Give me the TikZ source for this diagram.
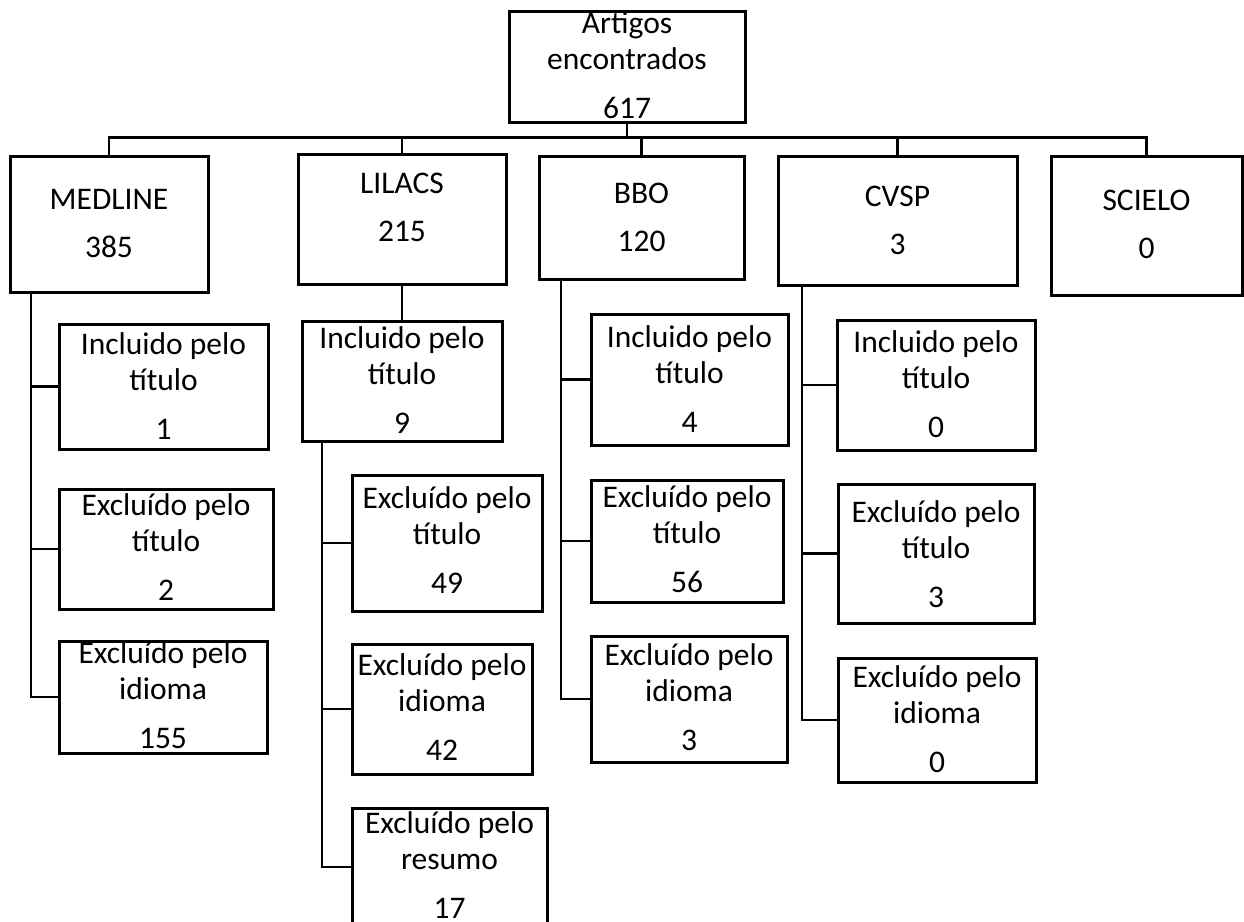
\documentclass[tikz,border=0pt]{standalone}
\usepackage{fontspec}
\setmainfont{Carlito}
\usetikzlibrary{calc}
\tikzset{
  box/.style={draw=black, line width=3pt, fill=white, inner sep=0pt, outer sep=0pt},
  txt/.style={inner sep=0pt, outer sep=0pt, font=\fontsize{31.5}{36}\selectfont, anchor=base},
  conn/.style={draw=black, line width=2.2pt},
  busline/.style={draw=black, line width=3.6pt}
}
% three-line box: name, left, top, right, bottom, first-baseline offset, line1, line2, number
\newcommand{\threebox}[9]{%
  \node[box, minimum width={(#4-#2)*1pt}, minimum height={(#5-#3)*1pt}] (#1) at ({(#2+#4)/2},{(#3+#5)/2}) {};
  \node[txt] (#1-a) at ({(#2+#4)/2},{#3+#6}) {#7};
  \node[txt] (#1-b) at ({(#2+#4)/2},{#3+#6+36}) {#8};
  \node[txt] (#1-c) at ({(#2+#4)/2},{#3+#6+85}) {#9};
}
% two-line box: name, left, top, right, bottom, first-baseline offset, line1, number
\newcommand{\twobox}[8]{%
  \node[box, minimum width={(#4-#2)*1pt}, minimum height={(#5-#3)*1pt}] (#1) at ({(#2+#4)/2},{(#3+#5)/2}) {};
  \node[txt] (#1-a) at ({(#2+#4)/2},{#3+#6}) {#7};
  \node[txt] (#1-c) at ({(#2+#4)/2},{#3+#6+48}) {#8};
}
\begin{document}
\begin{tikzpicture}[x=1pt, y=-1pt]
\useasboundingbox (0,0) rectangle (1244,921);
\fill[white] (0,0) rectangle (1244,921);

\coordinate (bus) at (627,137.5);
\coordinate (busL) at (387,137.5);

\threebox{top}{509}{11}{745}{122}{22}{Artigos}{encontrados}{617}
\twobox{medline}{10}{156}{208}{292}{53}{MEDLINE}{385}
\twobox{lilacs}{298}{154}{506}{284}{39}{LILACS}{215}
\twobox{bbo}{539}{156}{744}{279}{47}{BBO}{120}
\twobox{cvsp}{778}{156}{1017}{285}{50}{CVSP}{3}
\twobox{scielo}{1051}{156}{1242}{295}{54}{SCIELO}{0}

\threebox{m1}{59}{324}{268}{449}{30}{Incluido pelo}{título}{1}
\threebox{m2}{59}{489}{273}{609}{26}{Excluído pelo}{título}{2}
\threebox{m3}{59}{641}{267}{753}{22}{Excluído pelo}{idioma}{155}

\threebox{l1}{302}{321}{502}{441}{27}{Incluido pelo}{título}{9}
\threebox{l2}{352}{475}{542}{611}{33}{Excluído pelo}{título}{49}
\threebox{l3}{352}{644}{532}{774}{31}{Excluído pelo}{idioma}{42}
\threebox{l4}{352}{808}{547}{926}{25}{Excluído pelo}{resumo}{17}

\threebox{b1}{591}{314}{788}{445}{33}{Incluido pelo}{título}{4}
\threebox{b2}{591}{480}{783}{602}{27}{Excluído pelo}{título}{56}
\threebox{b3}{591}{636}{787}{762}{29}{Excluído pelo}{idioma}{3}

\threebox{c1}{837}{320}{1035}{450}{32}{Incluido pelo}{título}{0}
\threebox{c2}{838}{484}{1034}{623}{38}{Excluído pelo}{título}{3}
\threebox{c3}{838}{658}{1036}{782}{29}{Excluído pelo}{idioma}{0}

% top level bus
\draw[conn] (top.south) -- (bus);
\draw[conn] (bus) -| (medline.north);
\draw[conn] (bus) -| (lilacs.north);
\draw[conn] (bus) -| (bbo.north);
\draw[conn] (bus) -| (cvsp.north);
\draw[conn] (bus) -| (scielo.north);
\draw[busline] (bus) -- (busL);

% MEDLINE branch
\coordinate (ms) at ($(medline.south west)+(21,0)$);
\draw[conn] (ms) |- (m1.west);
\draw[conn] (ms) |- (m2.west);
\draw[conn] (ms) |- (m3.west);

% LILACS branch
\draw[conn] (lilacs.south) -- (l1.north);
\coordinate (ls) at ($(l1.south west)+(20,0)$);
\draw[conn] (ls) |- (l2.west);
\draw[conn] (ls) |- (l3.west);
\draw[conn] (ls) |- (l4.west);

% BBO branch
\coordinate (bs) at ($(bbo.south west)+(22,0)$);
\draw[conn] (bs) |- (b1.west);
\draw[conn] (bs) |- (b2.west);
\draw[conn] (bs) |- (b3.west);

% CVSP branch
\coordinate (cs) at ($(cvsp.south west)+(24,0)$);
\draw[conn] (cs) |- (c1.west);
\draw[conn] (cs) |- (c2.west);
\draw[conn] (cs) |- (c3.west);
\end{tikzpicture}
\end{document}
